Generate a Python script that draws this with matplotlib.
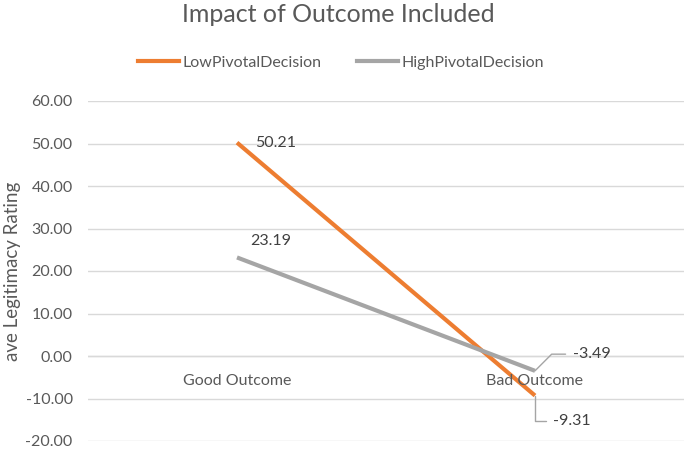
import matplotlib
matplotlib.use("Agg")
import matplotlib.pyplot as plt
from matplotlib.lines import Line2D

categories = ["Good Outcome", "Bad Outcome"]
low_pivotal = [50.21, -9.31]
high_pivotal = [23.19, -3.49]
series_names = ["LowPivotalDecision", "HighPivotalDecision"]
yticks = [-20, -10, 0, 10, 20, 30, 40, 50, 60]

plt.rcParams['font.family'] = ['Lato', 'DejaVu Sans']
txt = '#595959'
W, H = 685, 453
fig = plt.figure(figsize=(W / 100, H / 100), dpi=100)
ax = fig.add_axes([88 / W, (H - 441) / H, (684 - 88) / W, 340 / H])

orange = '#ED7D31'
gray = '#A5A5A5'
x = list(range(len(categories)))
ax.plot(x, low_pivotal, color=orange, lw=3, solid_capstyle='butt', zorder=3)
ax.plot(x, high_pivotal, color=gray, lw=3, solid_capstyle='butt', zorder=3)

ax.set_xlim(-0.5, 1.5)
ax.set_ylim(-20, 60)
ax.set_yticks(yticks)
ax.set_yticklabels([f"{v:.2f}" for v in yticks], color=txt, fontsize=11.5)
ax.tick_params(axis='y', length=0, pad=11)
ax.set_xticks([])
for s in ax.spines.values():
    s.set_visible(False)
ax.grid(axis='y', color='#D9D9D9', lw=1)
ax.set_axisbelow(True)
ax.axhline(0, color='#D9D9D9', lw=1, zorder=1)

for xi, c in zip(x, categories):
    ax.annotate(c, (xi, 0), xytext=(0, -18), textcoords='offset points',
                ha='center', va='center', color=txt, fontsize=11.5)

lab = '#404040'
ax.annotate(f"{low_pivotal[0]:.2f}", (0, low_pivotal[0]), xytext=(13, 0),
            textcoords='offset points', ha='left', va='center', color=lab, fontsize=11.5)
ax.annotate(f"{high_pivotal[0]:.2f}", (0, high_pivotal[0]), xytext=(24.5, 12),
            textcoords='offset points', ha='center', va='center', color=lab, fontsize=11.5)
ax.annotate(f"{high_pivotal[1]:.2f}", (1, high_pivotal[1]), xytext=(27, 12),
            textcoords='offset points', ha='left', va='center', color=lab, fontsize=11.5,
            arrowprops=dict(arrowstyle='-', color=gray, lw=1,
                            connectionstyle='angle,angleA=0,angleB=45,rad=0',
                            shrinkA=3, shrinkB=0))
ax.annotate(f"{low_pivotal[1]:.2f}", (1, low_pivotal[1]), xytext=(13, -18),
            textcoords='offset points', ha='left', va='center', color=lab, fontsize=11.5,
            arrowprops=dict(arrowstyle='-', color=gray, lw=1,
                            connectionstyle='angle,angleA=0,angleB=90,rad=0',
                            shrinkA=3, shrinkB=0))

fig.text(13 / W, 1 - 271 / H, "ave Legitimacy Rating", rotation=90, ha='center',
         va='center', color=txt, fontsize=13.5)

fig.text(338 / W, 1 - 15 / H, "Impact of Outcome Included", ha='center', va='center',
         color=txt, fontsize=18)

handles = [Line2D([0], [0], color=orange, lw=3), Line2D([0], [0], color=gray, lw=3)]
fig.legend(handles, series_names, loc='center', bbox_to_anchor=(341 / W, 1 - 63 / H),
           ncol=2, frameon=False, fontsize=11.5, labelcolor=txt, handlelength=2.6,
           handletextpad=0.2, columnspacing=2.2)

fig.savefig("out.png", dpi=100)
